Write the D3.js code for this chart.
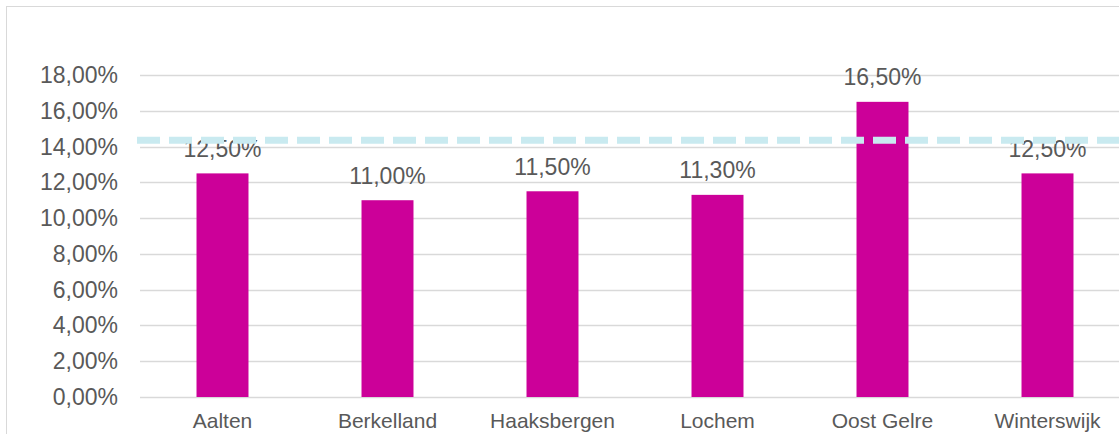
<!DOCTYPE html>
<meta charset="utf-8">
<title>Percentage per gemeente</title>
<script src="https://d3js.org/d3.v7.min.js"></script>
<style>
  body { margin: 0; background: #fff; }
  text { font-family: "Liberation Sans", Arial, sans-serif; fill: #595959; }
</style>
<body>
<div id="my_dataviz"></div>
<script>
// data
var gemeenten = ["Aalten", "Berkelland", "Haaksbergen", "Lochem", "Oost Gelre", "Winterswijk"];
var percentages = [12.5, 11.0, 11.5, 11.3, 16.5, 12.5];
var gemiddelde = 14.35;
var ticks = [0, 2, 4, 6, 8, 10, 12, 14, 16, 18];

var W = 1119, H = 434;
var margin = {top: 75, left: 140, bottom: 37};
var plotRight = 1130;

var svg = d3.select("#my_dataviz")
  .append("svg")
    .attr("width", W)
    .attr("height", H);

// chart frame
svg.append("rect")
  .attr("x", 6.5).attr("y", 6.5)
  .attr("width", W + 20).attr("height", H + 20)
  .attr("fill", "none")
  .attr("stroke", "#d9d9d9")
  .attr("stroke-width", 1);

var x = d3.scaleBand()
  .domain(gemeenten)
  .range([margin.left, plotRight])
  .paddingInner(0.685)
  .paddingOuter(0.3425);

var y = d3.scaleLinear()
  .domain([0, 18])
  .range([H - margin.bottom, margin.top]);

function fmt(v) { return v.toFixed(2).replace(".", ",") + "%"; }

// gridlines
svg.append("g")
  .selectAll("line")
  .data(ticks)
  .enter().append("line")
    .attr("x1", margin.left).attr("x2", W)
    .attr("y1", function(d) { return Math.round(y(d)) + 0.5; })
    .attr("y2", function(d) { return Math.round(y(d)) + 0.5; })
    .attr("stroke", "#d9d9d9")
    .attr("stroke-width", 1.5);

// y axis labels
svg.append("g")
  .selectAll("text")
  .data(ticks)
  .enter().append("text")
    .attr("x", 118)
    .attr("y", function(d) { return y(d); })
    .attr("dy", "0.35em")
    .attr("text-anchor", "end")
    .style("font-size", "23px")
    .text(fmt);

// bars
svg.append("g")
  .selectAll("rect")
  .data(percentages)
  .enter().append("rect")
    .attr("x", function(d, i) { return x(gemeenten[i]); })
    .attr("y", function(d) { return y(d); })
    .attr("width", x.bandwidth())
    .attr("height", function(d) { return y(0) - y(d); })
    .attr("fill", "#cc0099");

// value labels
svg.append("g")
  .selectAll("text")
  .data(percentages)
  .enter().append("text")
    .attr("x", function(d, i) { return x(gemeenten[i]) + x.bandwidth() / 2; })
    .attr("y", function(d) { return y(d) - 16.5; })
    .attr("text-anchor", "middle")
    .style("font-size", "23px")
    .text(fmt);

// category labels
svg.append("g")
  .selectAll("text")
  .data(gemeenten)
  .enter().append("text")
    .attr("x", function(d) { return x(d) + x.bandwidth() / 2; })
    .attr("y", 421)
    .attr("dy", "0.35em")
    .attr("text-anchor", "middle")
    .style("font-size", "21px")
    .text(function(d) { return d; });

// average line (dashed)
svg.append("line")
  .attr("x1", 137).attr("x2", W + 10)
  .attr("y1", y(gemiddelde)).attr("y2", y(gemiddelde))
  .attr("stroke", "#c9eaf0")
  .attr("stroke-width", 7)
  .attr("stroke-dasharray", "23,9");
</script>
</body>
